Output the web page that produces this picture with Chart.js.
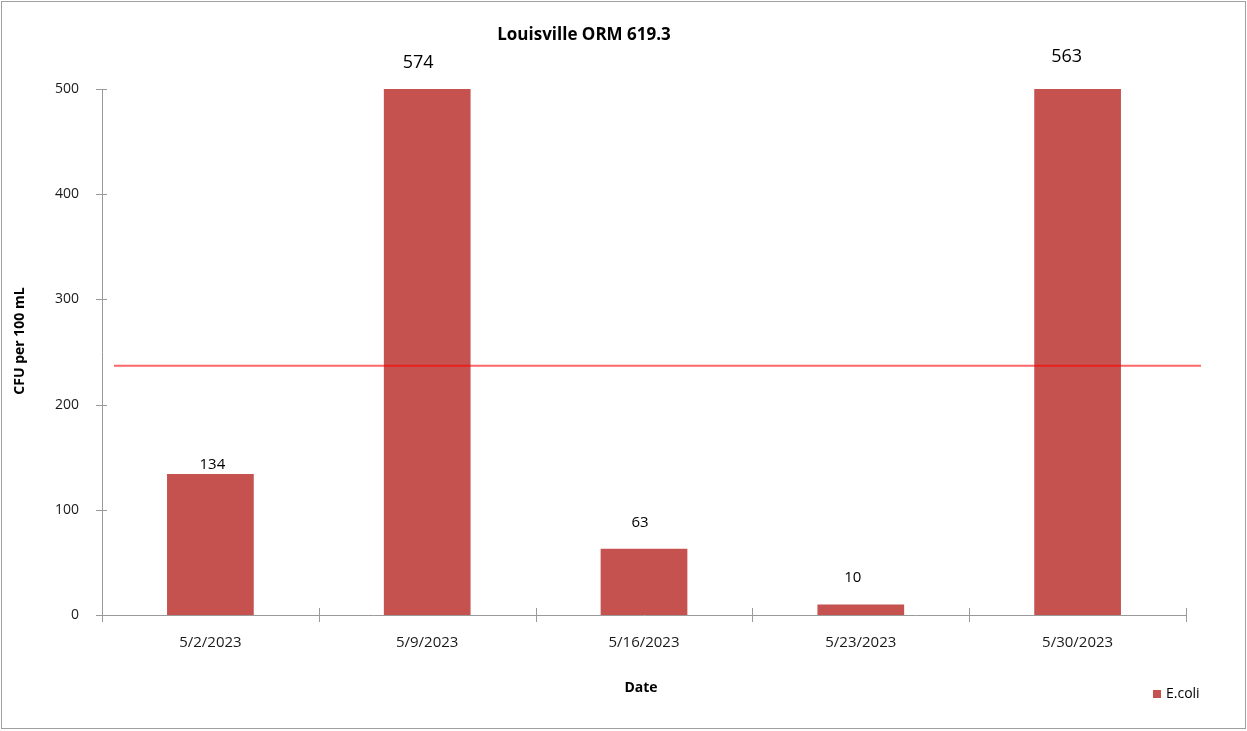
<!DOCTYPE html>
<html>
<head>
<meta charset="utf-8">
<script src="https://cdn.jsdelivr.net/npm/chart.js@4/dist/chart.umd.min.js"></script>
<style>
  html, body { margin: 0; padding: 0; background: #fff; }
  #wrap { width: 1247px; height: 731px; position: relative; }
</style>
</head>
<body>
<div id="wrap"><canvas id="c" width="1247" height="731"></canvas></div>
<script>
// ---- data ----
const categories = ['5/2/2023', '5/9/2023', '5/16/2023', '5/23/2023', '5/30/2023'];
const ecoli = [134, 574, 63, 10, 563];
const yTicks = [0, 100, 200, 300, 400, 500];
const threshold = [237];
const seriesName = 'E.coli';
const chartTitle = 'Louisville ORM 619.3';
const yTitle = 'CFU per 100 mL';
const xTitle = 'Date';

// ---- styling ----
const FONT = '"Open Sans", "Liberation Sans", sans-serif';
const BAR = '#C5524F';
const AXIS = '#9a9a9a';
const labelOffset = [11, 28, 27, 28, 34];   // gap above bar top (px)
const labelShift = [2, -9, -4, -8, -11];    // horizontal shift of label (px)
const labelSize = [15, 18, 15, 15, 18];

const decor = {
  id: 'decor',
  afterDraw(chart) {
    const ctx = chart.ctx;
    const ca = chart.chartArea;
    const xs = chart.scales.x, ys = chart.scales.y;
    ctx.save();
    // outer border
    ctx.strokeStyle = '#a0a0a0';
    ctx.lineWidth = 1;
    ctx.strokeRect(1.5, 1.5, 1244, 727);

    // crossing tick marks
    ctx.strokeStyle = AXIS;
    ctx.lineWidth = 1;
    ctx.beginPath();
    yTicks.forEach(v => {
      const y = Math.round(ys.getPixelForValue(v)) + 0.5;
      ctx.moveTo(ca.left - 6, y); ctx.lineTo(ca.left + 5, y);
    });
    for (let i = 0; i <= categories.length; i++) {
      let x;
      if (i === 0) x = ca.left;
      else if (i === categories.length) x = ca.right;
      else x = (xs.getPixelForValue(i - 1) + xs.getPixelForValue(i)) / 2;
      x = Math.round(x) + 0.5;
      ctx.moveTo(x, ca.bottom - 7); ctx.lineTo(x, ca.bottom + 7);
    }
    ctx.stroke();

    // threshold line
    const ty = ys.getPixelForValue(threshold[0]);
    ctx.strokeStyle = 'rgba(255,0,0,0.6)';
    ctx.lineWidth = 2;
    ctx.beginPath();
    ctx.moveTo(ca.left + 12, ty); ctx.lineTo(ca.right + 15, ty);
    ctx.stroke();

    // value labels
    const meta = chart.getDatasetMeta(0);
    ctx.fillStyle = '#000';
    ctx.textAlign = 'center';
    ctx.textBaseline = 'bottom';
    meta.data.forEach((bar, i) => {
      const top = Math.max(bar.y, ca.top);
      ctx.font = labelSize[i] + 'px ' + FONT;
      ctx.fillText(String(ecoli[i]), bar.x + labelShift[i], top - labelOffset[i] + labelSize[i] * 0.6);
    });

    // title
    ctx.textBaseline = 'middle';
    ctx.font = 'bold 17px ' + FONT;
    ctx.fillText(chartTitle, 584, 35);

    // x title
    ctx.font = 'bold 14px ' + FONT;
    ctx.fillText(xTitle, 641, 688);

    // y title
    ctx.save();
    ctx.translate(20, 341);
    ctx.rotate(-Math.PI / 2);
    ctx.fillText(yTitle, 0, 0);
    ctx.restore();

    // legend
    ctx.fillStyle = BAR;
    ctx.fillRect(1153, 690, 8, 8);
    ctx.fillStyle = '#000';
    ctx.textAlign = 'left';
    ctx.font = '14px ' + FONT;
    ctx.fillText(seriesName, 1166, 694);
    ctx.restore();
  }
};

new Chart(document.getElementById('c'), {
  type: 'bar',
  data: {
    labels: categories,
    datasets: [{
      label: seriesName,
      data: ecoli,
      backgroundColor: BAR,
      borderWidth: 0,
      categoryPercentage: 1,
      barPercentage: 0.4
    }]
  },
  options: {
    responsive: false,
    animation: false,
    events: [],
    layout: { padding: { left: 0, top: 89, right: 61, bottom: 0 } },
    plugins: { legend: { display: false }, title: { display: false }, tooltip: { enabled: false } },
    scales: {
      x: {
        offset: true,
        grid: { display: false },
        border: { display: true, color: AXIS, width: 1 },
        ticks: { color: '#1a1a1a', font: { family: FONT, size: 15 }, padding: 11, maxRotation: 0 },
        afterFit(s) { s.height = 116; }
      },
      y: {
        min: 0, max: 500,
        grid: { display: false },
        border: { display: true, color: AXIS, width: 1 },
        afterBuildTicks(s) { s.ticks = yTicks.map(v => ({ value: v })); },
        ticks: { color: '#1a1a1a', font: { family: FONT, size: 14 }, padding: 15 },
        afterFit(s) { s.width = 102; }
      }
    }
  },
  plugins: [decor]
});
</script>
</body>
</html>
